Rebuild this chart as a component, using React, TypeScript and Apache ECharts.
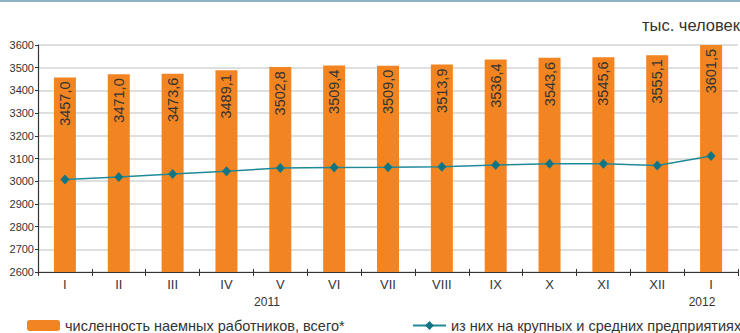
import React, { useEffect, useRef } from "react";
import * as echarts from "echarts";

const categories = ["I", "II", "III", "IV", "V", "VI", "VII", "VIII", "IX", "X", "XI", "XII", "I"];
const totalValues = [3457.0, 3471.0, 3473.6, 3489.1, 3502.8, 3509.4, 3509.0, 3513.9, 3536.4, 3543.6, 3545.6, 3555.1, 3601.5];
const largeMediumValues = [3007, 3018, 3032, 3044, 3058, 3060, 3061, 3064, 3071, 3077, 3077, 3069, 3111];
const yearLabels = [
  { text: "2011", x: 267 },
  { text: "2012", x: 702 },
];
const unitLabel = "тыс. человек";
const seriesNames = ["численность наемных работников, всего*", "из них на крупных и средних предприятиях"];

const FONT = "'Liberation Sans', Arial, sans-serif";

export default function App() {
  const ref = useRef<HTMLDivElement>(null);
  useEffect(() => {
    if (!ref.current) return;
    const chart = echarts.init(ref.current, null, { renderer: "svg" });
    chart.setOption({
      animation: false,
      backgroundColor: "#ffffff",
      textStyle: { fontFamily: FONT },
      grid: { left: 38, right: 2, top: 45, bottom: 61 },
      legend: [
        {
          data: [seriesNames[0]],
          left: 27,
          top: 318,
          itemWidth: 33,
          itemHeight: 11,
          itemTextGap: 5,
          padding: 0,
          textStyle: { fontFamily: FONT, fontSize: 14.5, lineHeight: 14, color: "#333" },
        },
        {
          data: [seriesNames[1]],
          left: 412,
          top: 318,
          itemWidth: 33,
          itemHeight: 11,
          itemTextGap: 3,
          padding: 0,
          textStyle: { fontFamily: FONT, fontSize: 14.5, lineHeight: 14, color: "#333" },
        },
      ],
      xAxis: [
        {
          type: "category",
          data: categories,
          axisLine: { show: true, lineStyle: { color: "#333", width: 1.2 } },
          axisTick: { show: true, alignWithLabel: false, length: 4, lineStyle: { color: "#333" } },
          axisLabel: { fontFamily: FONT, fontSize: 13, color: "#333", margin: 6 },
        },
        {
          type: "category",
          data: categories,
          position: "bottom",
          axisLine: { show: false },
          axisTick: { show: true, inside: true, length: 3, lineStyle: { color: "#333" } },
          axisLabel: { show: false },
        },
      ],
      yAxis: {
        type: "value",
        min: 2600,
        max: 3600,
        interval: 100,
        axisLine: { show: true, lineStyle: { color: "#333", width: 1.2 } },
        axisTick: { show: true, length: 3, lineStyle: { color: "#333" } },
        axisLabel: {
          fontFamily: FONT,
          fontSize: 11,
          color: "#333",
          margin: 4,
          formatter: (v: number) => String(v),
        },
        splitLine: { show: true, lineStyle: { color: "#d4d4d4", width: 1.5 } },
      },
      series: [
        {
          name: seriesNames[0],
          type: "bar",
          data: totalValues,
          barWidth: 22,
          itemStyle: { color: "#f28521" },
          label: {
            show: true,
            position: "insideTop",
            rotate: 90,
            align: "right",
            verticalAlign: "middle",
            distance: 4,
            fontFamily: FONT,
            fontSize: 14.5,
            color: "#333",
            formatter: (p: any) => p.value.toFixed(1).replace(".", ","),
          },
        },
        {
          name: seriesNames[1],
          type: "line",
          data: largeMediumValues,
          symbol: "diamond",
          symbolSize: [9, 10],
          lineStyle: { color: "#1f8a98", width: 1.5 },
          itemStyle: { color: "#0f7585" },
          z: 5,
        },
      ],
      graphic: [
        { type: "rect", shape: { x: 0, y: 0, width: 740, height: 2 }, style: { fill: "#8fb2c4" } },
        {
          type: "text",
          right: 0,
          top: 16,
          style: { text: unitLabel, font: `16.5px ${FONT}`, fill: "#333" },
        },
        ...yearLabels.map((y) => ({
          type: "text",
          x: y.x,
          y: 302,
          style: { text: y.text, font: `12px ${FONT}`, fill: "#333", textAlign: "center", textVerticalAlign: "middle" },
        })),
      ],
    });
    return () => chart.dispose();
  }, []);
  return <div ref={ref} style={{ position: "absolute", left: 0, top: 0, width: 740, height: 333 }} />;
}
